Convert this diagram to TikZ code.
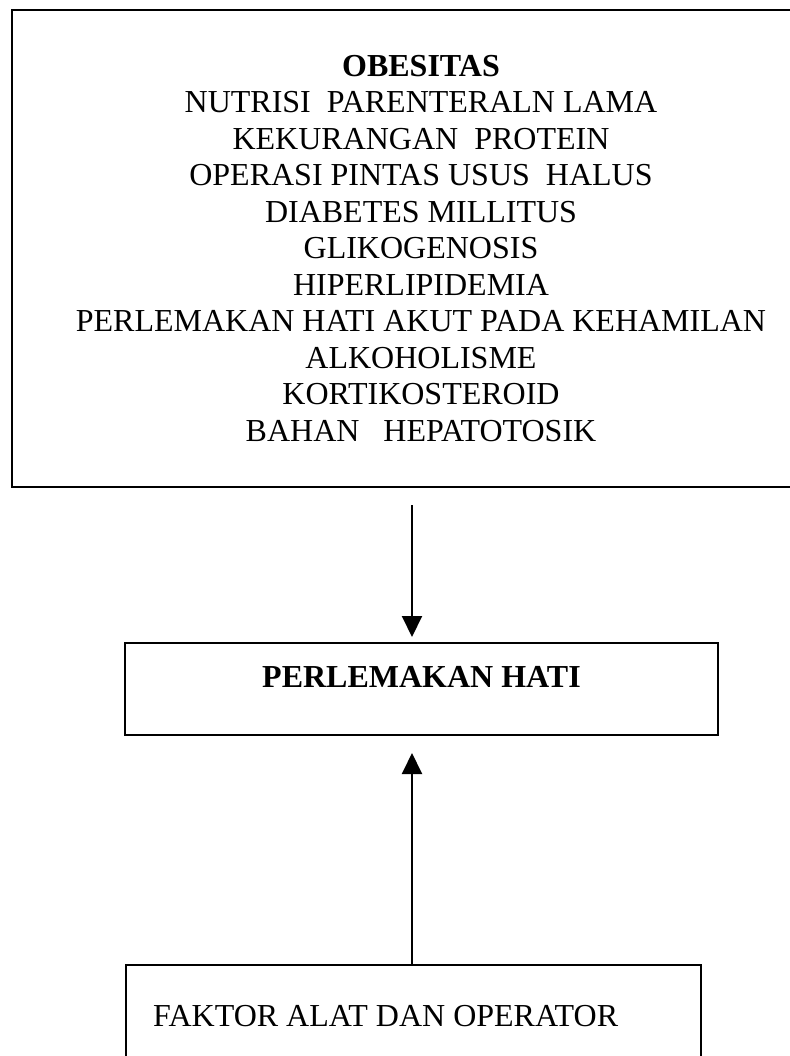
\documentclass[tikz,border=0pt]{standalone}
\usepackage{fontspec}
\setmainfont{Liberation Serif}
\usetikzlibrary{arrows.meta}
\newcommand{\bigtxt}{\fontsize{32}{36.5}\selectfont}
\begin{document}
\begin{tikzpicture}[x=1pt,y=-1pt,
  box/.style={draw=black, line width=2pt, rectangle, inner sep=0pt},
  linkarrow/.style={line width=2pt, -{Triangle[length=21pt,width=20pt]}},
  label text/.style={inner sep=0pt, font=\bigtxt}]
\useasboundingbox (0,0) rectangle (789,1056);
\fill[white] (0,0) rectangle (789,1056);
% causes box (extends past the right edge)
\node[box, minimum width=818pt, minimum height=477pt, align=center, font=\bigtxt] (causes) at (421,248.5)
  {\textbf{OBESITAS}\\
   NUTRISI\ \ PARENTERALN LAMA\\
   KEKURANGAN\ \ PROTEIN\\
   OPERASI PINTAS USUS\ \ HALUS\\
   DIABETES MILLITUS\\
   GLIKOGENOSIS\\
   HIPERLIPIDEMIA\\
   PERLEMAKAN HATI AKUT PADA KEHAMILAN\\
   ALKOHOLISME\\
   KORTIKOSTEROID\\
   BAHAN\ \ \ HEPATOTOSIK};
% fatty liver box
\node[box, minimum width=593pt, minimum height=92pt, text height=21pt, text depth=24pt,
      font=\bigtxt\bfseries] (fatty) at (421.5,689) {PERLEMAKAN HATI};
% factor box (extends past the bottom edge)
\node[box, anchor=north west, minimum width=575pt, minimum height=140pt] (factor) at (125,964) {};
\node[label text, anchor=base west] (factortext) at (153,1026.6) {FAKTOR ALAT DAN OPERATOR};
% connectors
\coordinate (ax) at (412,0);
\draw[linkarrow, shorten <=17pt, shorten >=5pt] (causes.south -| ax) -- (fatty.north -| ax);
\draw[linkarrow, shorten >=17pt] (factor.north -| ax) -- (fatty.south -| ax);
\end{tikzpicture}
\end{document}
